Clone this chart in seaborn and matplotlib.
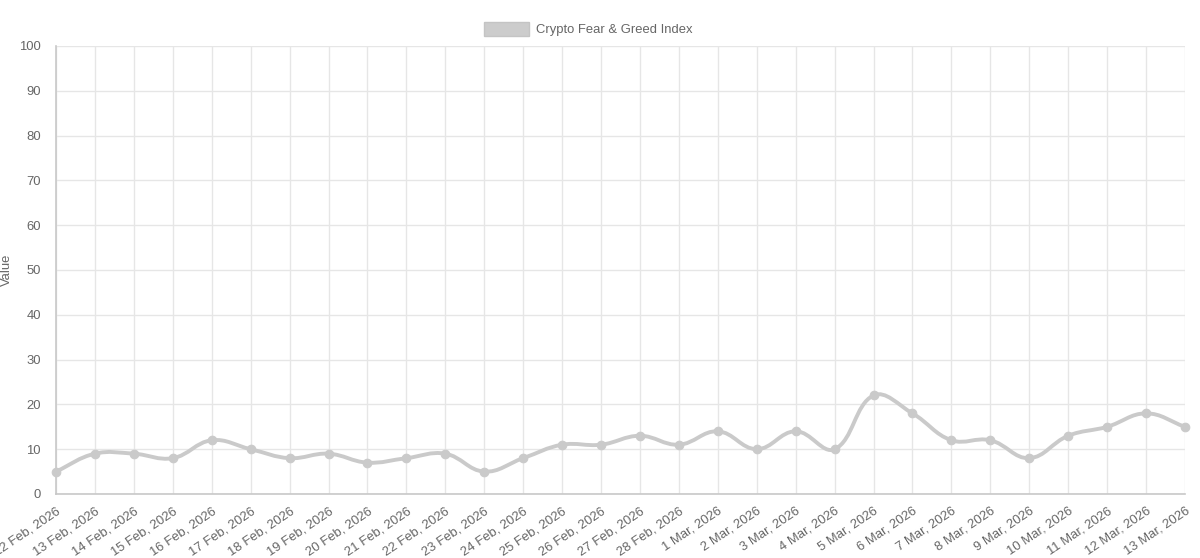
import numpy as np
import pandas as pd
import matplotlib
matplotlib.use("Agg")
import matplotlib.pyplot as plt
import seaborn as sns
from matplotlib.path import Path
from matplotlib.patches import PathPatch, Patch

dates = ["12 Feb, 2026", "13 Feb, 2026", "14 Feb, 2026", "15 Feb, 2026", "16 Feb, 2026",
         "17 Feb, 2026", "18 Feb, 2026", "19 Feb, 2026", "20 Feb, 2026", "21 Feb, 2026",
         "22 Feb, 2026", "23 Feb, 2026", "24 Feb, 2026", "25 Feb, 2026", "26 Feb, 2026",
         "27 Feb, 2026", "28 Feb, 2026", "1 Mar, 2026", "2 Mar, 2026", "3 Mar, 2026",
         "4 Mar, 2026", "5 Mar, 2026", "6 Mar, 2026", "7 Mar, 2026", "8 Mar, 2026",
         "9 Mar, 2026", "10 Mar, 2026", "11 Mar, 2026", "12 Mar, 2026", "13 Mar, 2026"]
values = [5, 9, 9, 8, 12, 10, 8, 9, 7, 8, 9, 5, 8, 11, 11, 13, 11, 14, 10, 14,
          10, 22, 18, 12, 12, 8, 13, 15, 18, 15]
series_name = "Crypto Fear & Greed Index"
y_ticks = list(range(0, 101, 10))

sns.set_theme(style="white")
plt.rcParams["font.family"] = ["Liberation Sans", "DejaVu Sans"]

df = pd.DataFrame({"idx": np.arange(len(dates)), "date": dates, "value": values})

fig = plt.figure(figsize=(12, 5.58), dpi=100)
ax = fig.add_axes([56 / 1200, 64 / 558, (1185 - 56) / 1200, (494 - 46) / 558])

n = len(values)
ax.set_xlim(0, n - 1)
ax.set_ylim(0, 100)

# Chart.js-like spline (tension 0.4) computed in pixel space
sx = (1185 - 56) / (n - 1)
sy = (494 - 46) / 100.0
px = df["idx"].to_numpy(dtype=float) * sx
py = df["value"].to_numpy(dtype=float) * sy
t = 0.4
cp_prev = []
cp_next = []
for i in range(n):
    p0 = (px[max(i - 1, 0)], py[max(i - 1, 0)])
    p1 = (px[i], py[i])
    p2 = (px[min(i + 1, n - 1)], py[min(i + 1, n - 1)])
    d01 = np.hypot(p1[0] - p0[0], p1[1] - p0[1])
    d12 = np.hypot(p2[0] - p1[0], p2[1] - p1[1])
    tot = d01 + d12
    s01 = d01 / tot if tot else 0
    s12 = d12 / tot if tot else 0
    fa, fb = t * s01, t * s12
    cp_prev.append((p1[0] - fa * (p2[0] - p0[0]), p1[1] - fa * (p2[1] - p0[1])))
    cp_next.append((p1[0] + fb * (p2[0] - p0[0]), p1[1] + fb * (p2[1] - p0[1])))

verts = [(px[0] / sx, py[0] / sy)]
codes = [Path.MOVETO]
for i in range(n - 1):
    verts += [(cp_next[i][0] / sx, cp_next[i][1] / sy),
              (cp_prev[i + 1][0] / sx, cp_prev[i + 1][1] / sy),
              (px[i + 1] / sx, py[i + 1] / sy)]
    codes += [Path.CURVE4] * 3
line_color = "#cacaca"
ax.add_patch(PathPatch(Path(verts, codes), facecolor="none", edgecolor=line_color,
                       lw=2.8, capstyle="round", joinstyle="round", zorder=3, clip_on=False))

sns.scatterplot(data=df, x="idx", y="value", ax=ax, color=line_color, s=38,
                edgecolor=line_color, linewidth=0.8, zorder=4, clip_on=False, legend=False)

fs = 9.4
ax.set_xticks(df["idx"])
ax.set_xticklabels(dates, rotation=34, ha="right", va="top", rotation_mode="anchor",
                   fontsize=fs, color="#666666")
ax.set_yticks(y_ticks)
ax.set_yticklabels([str(v) for v in y_ticks], fontsize=fs, color="#666666")
ax.tick_params(axis="both", length=8, width=1, color="#e6e6e6", pad=3)
ax.tick_params(axis="x", pad=0)
ax.grid(True, color="#e6e6e6", lw=1)
ax.set_axisbelow(True)
for s in ["top", "right"]:
    ax.spines[s].set_visible(False)
for s in ["left", "bottom"]:
    ax.spines[s].set_color("#c8c8c8")
    ax.spines[s].set_linewidth(1.2)
ax.set_xlabel("")
ax.set_ylabel("Value", fontsize=fs, color="#666666")
ax.yaxis.set_label_coords((13 - 56) / (1185 - 56), 0.5)

handle = Patch(facecolor="#cccccc", edgecolor="#c4c4c4", label=series_name)
fig.legend(handles=[handle], loc="center", bbox_to_anchor=(0.49, 1 - 29 / 558),
           frameon=False, fontsize=fs, labelcolor="#666666", handlelength=3.5,
           handleheight=1.25, handletextpad=0.5)

fig.savefig("out.png", dpi=100, facecolor="white")
